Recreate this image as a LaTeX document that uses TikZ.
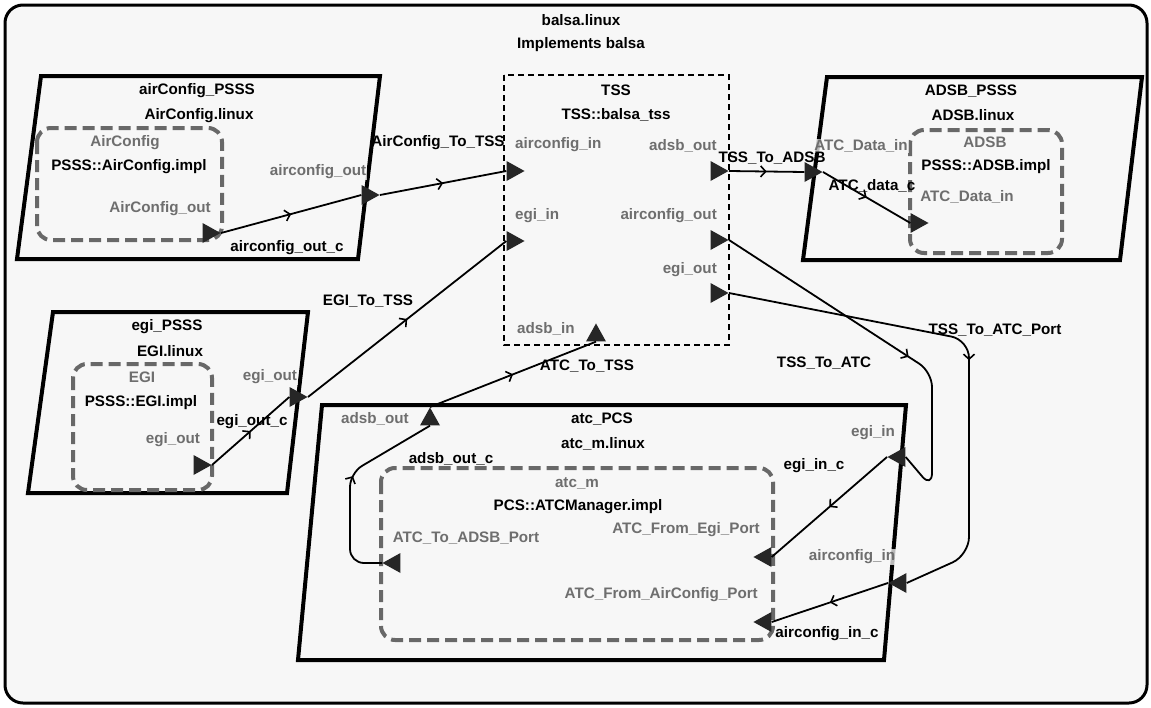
\documentclass[tikz,border=0pt]{standalone}
\usepackage{fontspec}
\setmainfont{Liberation Sans}
\usetikzlibrary{shapes.geometric,decorations.markings,arrows.meta}

\definecolor{bgcol}{HTML}{F7F7F7}
\definecolor{portgray}{HTML}{6E6E6E}
\definecolor{boxgray}{HTML}{686868}

\tikzset{
  lbl/.style={font=\bfseries\fontsize{15.2}{18}\selectfont, inner sep=1pt},
  plbl/.style={lbl, text=portgray, fill=bgcol, fill opacity=0.75, text opacity=1},
  sysbox/.style={line width=4pt, line join=miter},
  subbox/.style={draw=boxgray, line width=4pt, dash pattern=on 12pt off 6pt, rounded corners=14pt},
  port/.style={isosceles triangle, isosceles triangle apex angle=50, isosceles triangle stretches,
    fill=black!85, inner sep=0pt, minimum width=20pt, minimum height=18pt},
  conn/.style={line width=1.8pt, line join=round},
  midarr/.style={postaction={decorate}, decoration={markings,
    mark=at position #1 with {\arrow{Straight Barb[length=5pt,width=11pt,line width=1.6pt]}}}},
}

\begin{document}
\begin{tikzpicture}[x=1pt, y=-1pt]
  \useasboundingbox (0,0) rectangle (1151,707);
  \draw[line width=3pt, fill=bgcol, rounded corners=18pt] (5,5) rectangle (1147,703);

  % system title
  \node[lbl] (sysName) at (581,20) {balsa.linux};
  \node[lbl] (sysImpl) at (581,45) {Implements balsa};

  % containers
  \draw[sysbox] (41,76) -- (380,76) -- (358,259) -- (17,259) -- cycle;
  \draw[sysbox] (827,77) -- (1142,77) -- (1120,260) -- (803,260) -- cycle;
  \draw[sysbox] (53,312) -- (308,312) -- (287,493) -- (28,493) -- cycle;
  \draw[sysbox] (322,405) -- (906,405) -- (884,660) -- (298,660) -- cycle;
  \draw[line width=2pt, dash pattern=on 6pt off 4pt] (504,75) rectangle (729,345);

  % implementations
  \draw[subbox] (37,128) rectangle (222,240);
  \draw[subbox] (910,130) rectangle (1062,253);
  \draw[subbox] (73,364) rectangle (212,490);
  \draw[subbox] (381,468) rectangle (773,640);

  % ports
  \node[port, anchor=apex] (acImplOut) at (221,233) {};
  \node[port, anchor=apex] (acSysOut) at (380,195) {};
  \node[port, anchor=apex] (tssAcIn) at (525,171) {};
  \node[port, anchor=apex] (tssEgiIn) at (525,241) {};
  \node[port, anchor=apex] (tssAdsbOut) at (729,171) {};
  \node[port, anchor=apex] (tssAcOut) at (729,240) {};
  \node[port, anchor=apex] (tssEgiOut) at (729,293) {};
  \node[port, anchor=apex, shape border rotate=90] (tssAdsbIn) at (596,323) {};
  \node[port, anchor=apex] (adsbSysIn) at (823,172) {};
  \node[port, anchor=apex] (adsbImplIn) at (929,223) {};
  \node[port, anchor=apex] (egiImplOut) at (212,465) {};
  \node[port, anchor=apex] (egiSysOut) at (308,397) {};
  \node[port, anchor=apex, shape border rotate=90] (atcAdsbOut) at (430,407) {};
  \node[port, anchor=apex, shape border rotate=180] (atcEgiIn) at (887,457) {};
  \node[port, anchor=apex, shape border rotate=180] (atcAcIn) at (888,583) {};
  \node[port, anchor=apex, shape border rotate=180] (atcmToAdsb) at (382,563) {};
  \node[port, anchor=apex, shape border rotate=180] (atcmFromEgi) at (753,557) {};
  \node[port, anchor=apex, shape border rotate=180] (atcmFromAc) at (753,622) {};

  % bends
  \coordinate (toAtcTop) at (932,372);
  \coordinate (toAtcLow) at (932,488);
  \coordinate (toPortTop) at (969,340);
  \coordinate (toPortLow) at (969,555);
  \coordinate (adsbCLow) at (350,563);
  \coordinate (adsbCTop) at (350,473);

  % connections
  \draw[conn, midarr=0.5] (acImplOut.apex) -- (acSysOut.lower side);
  \draw[conn, midarr=0.5] (acSysOut.apex) -- (tssAcIn.lower side);
  \draw[conn, midarr=0.5] (tssAdsbOut.apex) -- (adsbSysIn.lower side);
  \draw[conn, midarr=0.5] (adsbSysIn.apex) -- (adsbImplIn.lower side);
  \draw[conn, midarr=0.5] (egiImplOut.apex) -- (egiSysOut.lower side);
  \draw[conn, midarr=0.5] (egiSysOut.apex) -- (tssEgiIn.lower side);
  \draw[conn, rounded corners=15pt, midarr=0.56] (tssAcOut.apex) -- (toAtcTop) -- (toAtcLow) -- (atcEgiIn.lower side);
  \draw[conn, rounded corners=18pt, midarr=0.5] (tssEgiOut.apex) -- (toPortTop) -- (toPortLow) -- (atcAcIn.lower side);
  \draw[conn, midarr=0.5] (atcEgiIn.apex) -- (atcmFromEgi.lower side);
  \draw[conn, midarr=0.5] (atcAcIn.apex) -- (atcmFromAc.lower side);
  \draw[conn, rounded corners=14pt, midarr=0.55] (atcmToAdsb.apex) -- (adsbCLow) -- (adsbCTop) -- (atcAdsbOut.lower side);
  \draw[conn, midarr=0.5] (atcAdsbOut.apex) -- (tssAdsbIn.lower side);

  % airConfig_PSSS
  \node[lbl] (acName) at (197,91) {airConfig\_PSSS};
  \node[lbl] (acPlat) at (199,116) {AirConfig.linux};
  \node[lbl, text=portgray] (acImpl) at (125,143) {AirConfig};
  \node[lbl] (acType) at (129,167) {PSSS::AirConfig.impl};
  \node[plbl] (acImplOutL) at (160,209) {AirConfig\_out};
  \node[plbl] (acSysOutL) at (318,172) {airconfig\_out};
  \node[lbl] (acConnL) at (287,248) {airconfig\_out\_c};
  \node[lbl] (acToTssL) at (438,143) {AirConfig\_To\_TSS};

  % TSS
  \node[lbl] (tssName) at (616,90) {TSS};
  \node[lbl] (tssType) at (616,115) {TSS::balsa\_tss};
  \node[plbl, anchor=west] (tssAcInL) at (514,145) {airconfig\_in};
  \node[plbl, anchor=west] (tssEgiInL) at (514,216) {egi\_in};
  \node[plbl, anchor=west] (tssAdsbInL) at (516,329) {adsb\_in};
  \node[plbl, anchor=east] (tssAdsbOutL) at (718,146) {adsb\_out};
  \node[plbl, anchor=east] (tssAcOutL) at (718,216) {airconfig\_out};
  \node[plbl, anchor=east] (tssEgiOutL) at (718,270) {egi\_out};

  % ADSB_PSSS
  \node[lbl] (adsbName) at (971,91) {ADSB\_PSSS};
  \node[lbl] (adsbPlat) at (973,115) {ADSB.linux};
  \node[lbl, text=portgray] (adsbImpl) at (985,142) {ADSB};
  \node[lbl] (adsbType) at (986,167) {PSSS::ADSB.impl};
  \node[plbl] (adsbImplInL) at (967,197) {ATC\_Data\_in};
  \node[plbl] (adsbSysInL) at (861,146) {ATC\_Data\_in};
  \node[lbl] (adsbConnL) at (872,186) {ATC\_data\_c};
  \node[lbl] (tssToAdsbL) at (772,158) {TSS\_To\_ADSB};

  % egi_PSSS
  \node[lbl] (egiName) at (167,327) {egi\_PSSS};
  \node[lbl] (egiPlat) at (170,351) {EGI.linux};
  \node[lbl, text=portgray] (egiImpl) at (142,377) {EGI};
  \node[lbl] (egiType) at (141,403) {PSSS::EGI.impl};
  \node[plbl] (egiImplOutL) at (173,440) {egi\_out};
  \node[plbl] (egiSysOutL) at (270,377) {egi\_out};
  \node[lbl] (egiConnL) at (252,422) {egi\_out\_c};
  \node[lbl] (egiToTssL) at (368,301) {EGI\_To\_TSS};

  % atc_PCS
  \node[lbl] (atcName) at (602,419) {atc\_PCS};
  \node[lbl] (atcPlat) at (603,444) {atc\_m.linux};
  \node[lbl, text=portgray] (atcmImpl) at (577,483) {atc\_m};
  \node[lbl] (atcmType) at (578,507) {PCS::ATCManager.impl};
  \node[plbl] (atcAdsbOutL) at (375,419) {adsb\_out};
  \node[plbl] (atcEgiInL) at (873,433) {egi\_in};
  \node[plbl] (atcAcInL) at (852,557) {airconfig\_in};
  \node[plbl] (atcmToAdsbL) at (466,538) {ATC\_To\_ADSB\_Port};
  \node[plbl, anchor=east] (atcmFromEgiL) at (761,530) {ATC\_From\_Egi\_Port};
  \node[plbl, anchor=east] (atcmFromAcL) at (759,595) {ATC\_From\_AirConfig\_Port};
  \node[lbl] (adsbOutCL) at (451,459) {adsb\_out\_c};
  \node[lbl] (egiInCL) at (814,466) {egi\_in\_c};
  \node[lbl] (acInCL) at (827,634) {airconfig\_in\_c};
  \node[lbl] (atcToTssL) at (587,366) {ATC\_To\_TSS};
  \node[lbl] (tssToAtcL) at (824,363) {TSS\_To\_ATC};
  \node[lbl] (tssToPortL) at (995,330) {TSS\_To\_ATC\_Port};
\end{tikzpicture}
\end{document}
